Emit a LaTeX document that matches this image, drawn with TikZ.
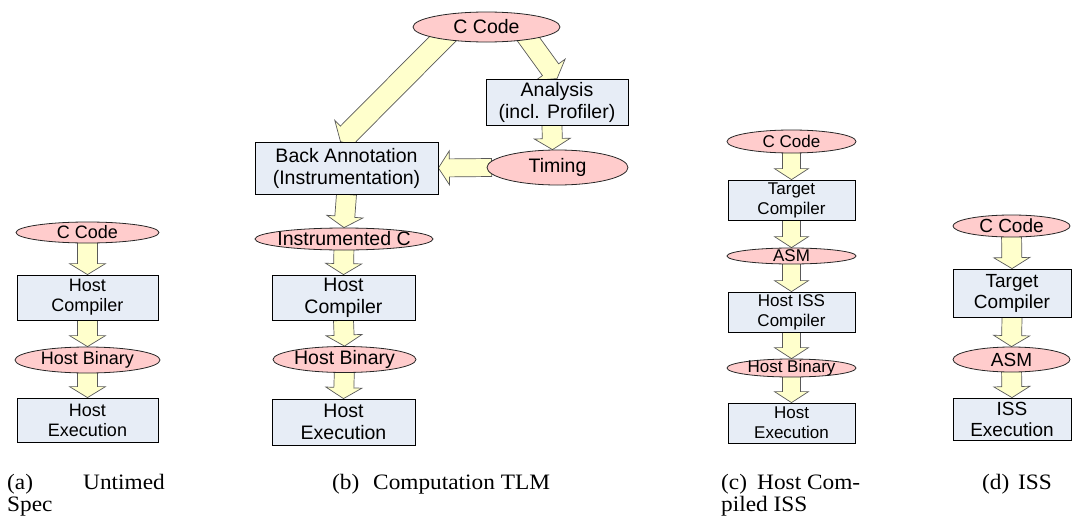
\documentclass[tikz,border=0pt]{standalone}
\usepackage{fontspec}
\setmainfont{Liberation Serif}
\newfontfamily\arialf{Liberation Sans}
\newfontfamily\capf[FakeStretch=1.06]{Liberation Serif}
\usetikzlibrary{shapes.geometric,calc,backgrounds}
\definecolor{pinkf}{RGB}{255,204,204}
\definecolor{bluef}{RGB}{231,237,246}
\definecolor{yelf}{RGB}{255,255,204}
% block arrow: [half shaft width] {start} {end}
\newcommand\barr[3][10]{%
  \pgfmathsetmacro\hwd{#1+8}%
  \coordinate (tS) at (#2);
  \coordinate (tE) at (#3);
  \coordinate (tC) at ($(tE)!11pt!(tS)$);
  \filldraw[barrow] ($(tS)!#1pt!90:(tE)$) -- ($(tC)!#1pt!90:(tE)$)
    -- ($(tC)!\hwd pt!90:(tE)$) -- (tE) -- ($(tC)!\hwd pt!-90:(tE)$)
    -- ($(tC)!#1pt!-90:(tE)$) -- ($(tS)!#1pt!-90:(tE)$) -- cycle;}
\newcommand\fA{\arialf\fontsize{18}{20}\selectfont}
\newcommand\fB{\arialf\fontsize{19.5}{22}\selectfont}
\newcommand\fC{\arialf\fontsize{17}{20}\selectfont}
\newcommand\fD{\arialf\fontsize{19}{21}\selectfont}
\newcommand\fCap{\capf\fontsize{22}{22}\selectfont}
\tikzset{
  ell/.style={ellipse, draw=black!85, fill=pinkf, line width=0.8pt, inner sep=0pt},
  box/.style={rectangle, draw=black, fill=bluef, line width=0.8pt, align=center, inner sep=0pt},
  barrow/.style={fill=yelf, draw=black!65, line width=0.7pt, line join=miter},
  lab/.style={inner sep=0pt},
  captxt/.style={font=\fCap, anchor=base west, inner sep=0pt},
}
\begin{document}
\begin{tikzpicture}[x=1pt,y=-1pt]
\useasboundingbox (0,0) rectangle (1072,525);
% (a)
\node[ell, minimum width=143pt, minimum height=21pt, label={[lab,font=\fA]center:C Code}] (a1) at (87.5,232.5) {};
\node[box, minimum width=141pt, minimum height=45pt, font=\fA] (a2) at (87.5,297.5) {Host\\Compiler};
\node[ell, minimum width=145pt, minimum height=26pt, label={[lab,font=\fA]center:Host Binary}] (a3) at (87.5,360) {};
\node[box, minimum width=141pt, minimum height=44pt, font=\fA] (a4) at (87.5,420) {Host\\Execution};
% (b)
\node[ell, minimum width=147pt, minimum height=30pt, label={[lab,font=\fB]center:C Code}] (b1) at (486.5,27) {};
\node[box, minimum width=142pt, minimum height=46pt, font=\fB] (b2) at (557,102) {Analysis\\(incl. Profiler)};
\node[ell, minimum width=141pt, minimum height=35pt, label={[lab,font=\fB]center:Timing}] (b3) at (557.5,167.5) {};
\node[box, minimum width=183pt, minimum height=52pt, font=\fB] (b4) at (346.5,168) {Back Annotation\\(Instrumentation)};
\node[ell, minimum width=178pt, minimum height=22pt, label={[lab,font=\fB]center:Instrumented C}] (b5) at (344,239) {};
\node[box, minimum width=143pt, minimum height=45pt, font=\fB] (b6) at (343.5,297.5) {Host\\Compiler};
\node[ell, minimum width=143pt, minimum height=26pt, label={[lab,font=\fB]center:Host Binary}] (b7) at (344.5,359.5) {};
\node[box, minimum width=143pt, minimum height=46pt, font=\fB] (b8) at (343.5,422) {Host\\Execution};
% (c)
\node[ell, minimum width=129pt, minimum height=23pt, label={[lab,font=\fC]center:C Code}] (c1) at (791.5,141.5) {};
\node[box, minimum width=127pt, minimum height=40pt, font=\fC] (c2) at (791.5,200) {Target\\Compiler};
\node[ell, minimum width=129pt, minimum height=16pt, label={[lab,font=\fC]center:ASM}] (c3) at (791.5,256) {};
\node[box, minimum width=127pt, minimum height=40pt, font=\fC] (c4) at (791.5,312) {Host ISS\\Compiler};
\node[ell, minimum width=129pt, minimum height=18pt, label={[lab,font=\fC]center:Host Binary}] (c5) at (791.5,368) {};
\node[box, minimum width=127pt, minimum height=40pt, font=\fC] (c6) at (791.5,423) {Host\\Execution};
% (d)
\node[ell, minimum width=117pt, minimum height=22pt, label={[lab,font=\fD]center:C Code}] (d1) at (1011.5,226) {};
\node[box, minimum width=118pt, minimum height=48pt, font=\fD] (d2) at (1012,293) {Target\\Compiler};
\node[ell, minimum width=117pt, minimum height=25pt, label={[lab,font=\fD]center:ASM}] (d3) at (1011.5,359.5) {};
\node[box, minimum width=118pt, minimum height=42pt, font=\fD] (d4) at (1012,419) {ISS\\Execution};
% arrows
\begin{pgfonlayer}{background}
\barr{$(a1.south)+(0,-5)$}{a2.north}
\barr{a2.south}{a3.north}
\barr{$(a3.south)+(0,-5)$}{a4.north}
\barr[11]{$(b1.center)+(-35,3)$}{$(b4.north)+(-6,0)$}
\barr{$(b1.center)+(36,4)$}{b2.north}
\barr{$(b2.south)+(-5,0)$}{$(b3.north)+(-5,0)$}
\barr[9]{$(b3.west)+(5,0)$}{b4.east}
\barr{b4.south}{b5.north}
\barr{$(b5.south)+(0,-5)$}{b6.north}
\barr{b6.south}{b7.north}
\barr{$(b7.south)+(0,-5)$}{b8.north}
\barr[9]{$(c1.south)+(0,-5)$}{c2.north}
\barr[9]{c2.south}{c3.north}
\barr[9]{$(c3.south)+(0,-3)$}{c4.north}
\barr[9]{c4.south}{c5.north}
\barr[9]{$(c5.south)+(0,-3)$}{c6.north}
\barr{$(d1.south)+(0,-5)$}{d2.north}
\barr{d2.south}{d3.north}
\barr{$(d3.south)+(0,-5)$}{d4.north}
\end{pgfonlayer}
% captions
\node[captxt] (capa1) at (7,489) {(a)};
\node[captxt] (capa2) at (83,489) {Untimed};
\node[captxt] (capa3) at (7,511) {Spec};
\node[captxt] (capb1) at (332,489) {(b)};
\node[captxt] (capb2) at (373,489) {Computation TLM};
\node[captxt] (capc1) at (721,489) {(c)};
\node[captxt] (capc2) at (757,489) {Host Com-};
\node[captxt] (capc3) at (721,511) {piled ISS};
\node[captxt] (capd1) at (982,489) {(d)};
\node[captxt] (capd2) at (1018,489) {ISS};
\end{tikzpicture}
\end{document}
